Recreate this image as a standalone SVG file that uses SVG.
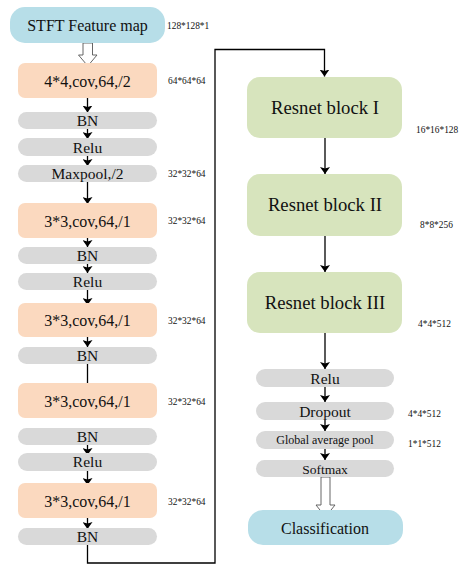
<svg xmlns="http://www.w3.org/2000/svg" width="464" height="574" viewBox="0 0 464 574">
<defs>
<marker id="ah" viewBox="0 0 7 10" refX="7" refY="5" markerWidth="7" markerHeight="10" markerUnits="userSpaceOnUse" orient="auto">
<path d="M0,0 L7,5 L0,10 L1.5,5 Z" fill="#000"/>
</marker>
<style>
.t{text-anchor:middle;}
.blue{fill:#b7dee8;}
.peach{fill:#fbd9bf;}
.gray{fill:#d9d9d9;}
.green{fill:#d7e4bd;}
.big{font-size:16px;}
.mid{font-size:15.5px;}
.res{font-size:18.7px;}
.lab{font-size:9.4px;}
.c{fill:none;stroke:#000;stroke-width:1.3;}
.hollow{fill:#fff;stroke:#555;stroke-width:0.9;}
</style>
</defs>
<rect width="464" height="574" fill="#fff"/>

<g id="connectors">
<path class="c" d="M87.5,98 V112.5" marker-end="url(#ah)"/>
<path class="c" d="M87.5,125 V139" marker-end="url(#ah)"/>
<path class="c" d="M87.5,152 V166" marker-end="url(#ah)"/>
<path class="c" d="M87.5,182 V204" marker-end="url(#ah)"/>
<path class="c" d="M87.5,238 V247" marker-end="url(#ah)"/>
<path class="c" d="M87.5,260 V273" marker-end="url(#ah)"/>
<path class="c" d="M87.5,290 V305" marker-end="url(#ah)"/>
<path class="c" d="M87.5,337 V347" marker-end="url(#ah)"/>
<path class="c" d="M87.5,364 V391" marker-end="url(#ah)"/>
<path class="c" d="M87.5,441 V455" marker-end="url(#ah)"/>
<path class="c" d="M87.5,471 V485" marker-end="url(#ah)"/>
<path class="c" d="M87.5,518 V529" marker-end="url(#ah)"/>
<path class="c" d="M87.5,545 V563 H215 V49.5 H324.5 V76.5" marker-end="url(#ah)"/>
<path class="c" d="M325,132 V174" marker-end="url(#ah)"/>
<path class="c" d="M325,229 V272" marker-end="url(#ah)"/>
<path class="c" d="M325,332 V369" marker-end="url(#ah)"/>
<path class="c" d="M325,384 V402" marker-end="url(#ah)"/>
<path class="c" d="M325,416 V431" marker-end="url(#ah)"/>
<path class="c" d="M325,446 V460" marker-end="url(#ah)"/>
<path class="hollow" d="M83,43 H92.5 V55 H97 L87.8,66 L78.5,55 H83 Z"/>
<path class="hollow" d="M321,477 H330 V505 H335 L325.5,517 L316,505 H321 Z"/>
</g>

<g font-family="'Liberation Serif', 'DejaVu Serif', serif" fill="#111">
<g id="stft">
<rect class="blue" x="10" y="7" width="155" height="36" rx="15"/>
<text class="t big" x="87.5" y="31">STFT Feature map</text>
<text class="lab" x="167" y="29">128*128*1</text>
</g>
<g id="conv1">
<rect class="peach" x="18" y="63" width="139" height="35" rx="7"/>
<text class="t big" x="87.5" y="86.5">4*4,cov,64,/2</text>
<text class="lab" x="168" y="84">64*64*64</text>
</g>
<g id="bn1">
<rect class="gray" x="18" y="112" width="139" height="17" rx="8.5"/>
<text class="t mid" x="87.5" y="126">BN</text>
</g>
<g id="relu1">
<rect class="gray" x="18" y="138" width="139" height="18" rx="9"/>
<text class="t mid" x="87.5" y="152.5">Relu</text>
</g>
<g id="maxpool">
<rect class="gray" x="18" y="165" width="139" height="17" rx="8.5"/>
<text class="t mid" x="87.5" y="179">Maxpool,/2</text>
<text class="lab" x="168" y="177">32*32*64</text>
</g>
<g id="conv2">
<rect class="peach" x="18" y="203" width="139" height="35" rx="7"/>
<text class="t big" x="87.5" y="226.5">3*3,cov,64,/1</text>
<text class="lab" x="168" y="224">32*32*64</text>
</g>
<g id="bn2">
<rect class="gray" x="18" y="247" width="139" height="17" rx="8.5"/>
<text class="t mid" x="87.5" y="261">BN</text>
</g>
<g id="relu2">
<rect class="gray" x="18" y="273" width="139" height="17" rx="8.5"/>
<text class="t mid" x="87.5" y="287">Relu</text>
</g>
<g id="conv3">
<rect class="peach" x="18" y="303" width="139" height="34" rx="7"/>
<text class="t big" x="87.5" y="326">3*3,cov,64,/1</text>
<text class="lab" x="168" y="324">32*32*64</text>
</g>
<g id="bn3">
<rect class="gray" x="18" y="347" width="139" height="17" rx="8.5"/>
<text class="t mid" x="87.5" y="361">BN</text>
</g>
<g id="conv4">
<rect class="peach" x="18" y="383" width="139" height="35" rx="7"/>
<text class="t big" x="87.5" y="406.5">3*3,cov,64,/1</text>
<text class="lab" x="168" y="405">32*32*64</text>
</g>
<g id="bn4">
<rect class="gray" x="18" y="428" width="139" height="17" rx="8.5"/>
<text class="t mid" x="87.5" y="442">BN</text>
</g>
<g id="relu3">
<rect class="gray" x="18" y="453" width="139" height="18" rx="9"/>
<text class="t mid" x="87.5" y="467">Relu</text>
</g>
<g id="conv5">
<rect class="peach" x="18" y="483" width="139" height="35" rx="7"/>
<text class="t big" x="87.5" y="506.5">3*3,cov,64,/1</text>
<text class="lab" x="168" y="505">32*32*64</text>
</g>
<g id="bn5">
<rect class="gray" x="18" y="528" width="139" height="17" rx="8.5"/>
<text class="t mid" x="87.5" y="542">BN</text>
</g>

<g id="res1">
<rect class="green" x="247" y="77" width="155" height="61" rx="13"/>
<text class="t res" x="325" y="113.5">Resnet block I</text>
<text class="lab" x="416" y="133">16*16*128</text>
</g>
<g id="res2">
<rect class="green" x="247" y="174" width="155" height="62" rx="13"/>
<text class="t res" x="325" y="211">Resnet block II</text>
<text class="lab" x="420" y="228">8*8*256</text>
</g>
<g id="res3">
<rect class="green" x="247" y="272" width="155" height="61" rx="13"/>
<text class="t res" x="325" y="308.5">Resnet block III</text>
<text class="lab" x="418" y="326.5">4*4*512</text>
</g>
<g id="relu4">
<rect class="gray" x="256" y="369" width="138" height="18" rx="9"/>
<text class="t mid" x="325" y="383.5">Relu</text>
</g>
<g id="dropout">
<rect class="gray" x="256" y="402" width="138" height="18" rx="9"/>
<text class="t mid" x="325" y="416.5">Dropout</text>
<text class="lab" x="408" y="416.5">4*4*512</text>
</g>
<g id="gap">
<rect class="gray" x="256" y="431" width="138" height="18" rx="9"/>
<text class="t" x="325" y="444" font-size="12">Global average pool</text>
<text class="lab" x="408" y="446.5">1*1*512</text>
</g>
<g id="softmax">
<rect class="gray" x="256" y="460" width="138" height="17" rx="8.5"/>
<text class="t" x="325" y="473.5" font-size="13.5">Softmax</text>
</g>
<g id="classification">
<rect class="blue" x="248" y="510" width="155" height="35" rx="15"/>
<text class="t big" x="325" y="533.5">Classification</text>
</g>
</g>
</svg>
